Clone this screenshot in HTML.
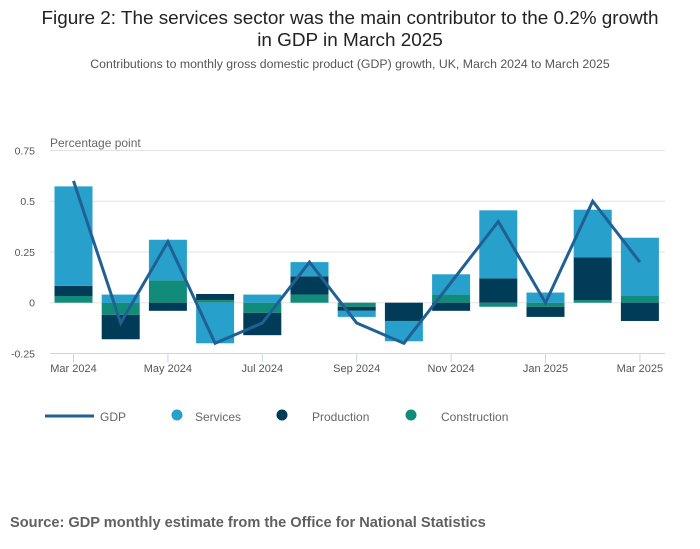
<!DOCTYPE html>
<html><head><meta charset="utf-8"><style>
body{margin:0;background:#fff;font-family:"Liberation Sans",sans-serif;}
svg{display:block}
</style></head><body>
<svg id="c" width="700" height="549" xmlns="http://www.w3.org/2000/svg">
<text x="350" y="24" text-anchor="middle" font-size="18.9" fill="#222">Figure 2: The services sector was the main contributor to the 0.2% growth</text>
<text x="350" y="46" text-anchor="middle" font-size="18.9" fill="#222">in GDP in March 2025</text>
<text x="350" y="68" text-anchor="middle" font-size="12.3" fill="#555">Contributions to monthly gross domestic product (GDP) growth, UK, March 2024 to March 2025</text>
<text x="50" y="147" font-size="12" fill="#666">Percentage point</text>
<g id="grid"></g><g id="bars"></g><g id="line"></g><g id="xax"></g>
<g>
<line x1="45" y1="416" x2="94" y2="416" stroke="#206095" stroke-width="3"/>
<text x="100" y="421" font-size="12" fill="#666">GDP</text>
<circle cx="177" cy="415" r="5.5" fill="#27a0cc"/>
<text x="195" y="421" font-size="12" fill="#666">Services</text>
<circle cx="282" cy="415" r="5.5" fill="#003c57"/>
<text x="312" y="421" font-size="12" fill="#666">Production</text>
<circle cx="411" cy="415" r="5.5" fill="#118c7b"/>
<text x="441" y="421" font-size="12" fill="#666">Construction</text>
</g>
<text x="10" y="527" font-size="14.6" font-weight="bold" fill="#606060">Source: GDP monthly estimate from the Office for National Statistics</text>
</svg>
<script>
const categories=["Mar 2024","Apr 2024","May 2024","Jun 2024","Jul 2024","Aug 2024","Sep 2024","Oct 2024","Nov 2024","Dec 2024","Jan 2025","Feb 2025","Mar 2025"];
const construction=[0.033,-0.06,0.11,0.013,-0.05,0.04,-0.02,0,0.04,-0.02,-0.02,0.013,0.035];
const production=[0.05,-0.12,-0.04,0.03,-0.11,0.09,-0.02,-0.09,-0.04,0.12,-0.05,0.21,-0.09];
const services=[0.49,0.04,0.2,-0.2,0.04,0.07,-0.03,-0.1,0.1,0.335,0.05,0.235,0.285];
const gdp=[0.6,-0.1,0.3,-0.2,-0.1,0.2,-0.1,-0.2,0.1,0.4,0,0.5,0.2];
const yTicks=[-0.25,0,0.25,0.5,0.75];
const yLabels=["-0.25","0","0.25","0.5","0.75"];
const xTickIdx=[0,2,4,6,8,10,12];

const NS="http://www.w3.org/2000/svg";
const y=v=>302.7-v*203;
const x=i=>73.5+i*47.2;
function mk(tag,attrs,parent){const e=document.createElementNS(NS,tag);for(const k in attrs)e.setAttribute(k,attrs[k]);document.getElementById(parent).appendChild(e);return e;}
yTicks.forEach((t,i)=>{
  if(t!==-0.25){const l=mk('line',{x1:50,x2:665,y1:y(t),y2:y(t),stroke:'#e3e3e3','stroke-width':1},'grid');
  
  }
  const tx=mk('text',{x:35,y:y(t)+4,'text-anchor':'end','font-size':10.5,fill:'#555'},'grid');tx.textContent=yLabels[i];
  
  
});
const ax=mk('line',{x1:50,x2:665,y1:y(-0.25),y2:y(-0.25),stroke:'#ccd6eb','stroke-width':1},'xax');


xTickIdx.forEach(i=>{
  const t=mk('line',{x1:x(i),x2:x(i),y1:y(-0.25),y2:y(-0.25)+9,stroke:'#ccd6eb'},'xax');
  
  
  const tx=mk('text',{x:x(i),y:372,'text-anchor':'middle','font-size':11,fill:'#555'},'xax');tx.textContent=categories[i];
  
  
});
const series=[[construction,'#118c7b','construction'],[production,'#003c57','production'],[services,'#27a0cc','services']];
categories.forEach((c,i)=>{
  let pos=0,neg=0;
  series.forEach(([arr,col,nm])=>{
    const v=arr[i];if(v===0)return;
    let a,b;
    if(v>0){a=pos;b=pos+v;pos=b;}else{a=neg;b=neg+v;neg=b;}
    const top=Math.min(y(a),y(b)),h=Math.abs(y(a)-y(b));
    const r=mk('rect',{x:x(i)-19,y:top,width:38,height:h,fill:col},'bars');
    
    
  });
});
const pts=gdp.map((v,i)=>x(i)+','+y(v)).join(' ');
const pl=mk('polyline',{points:pts,fill:'none',stroke:'#206095','stroke-width':3,'stroke-linejoin':'miter'},'line');


</script>
</body></html>
